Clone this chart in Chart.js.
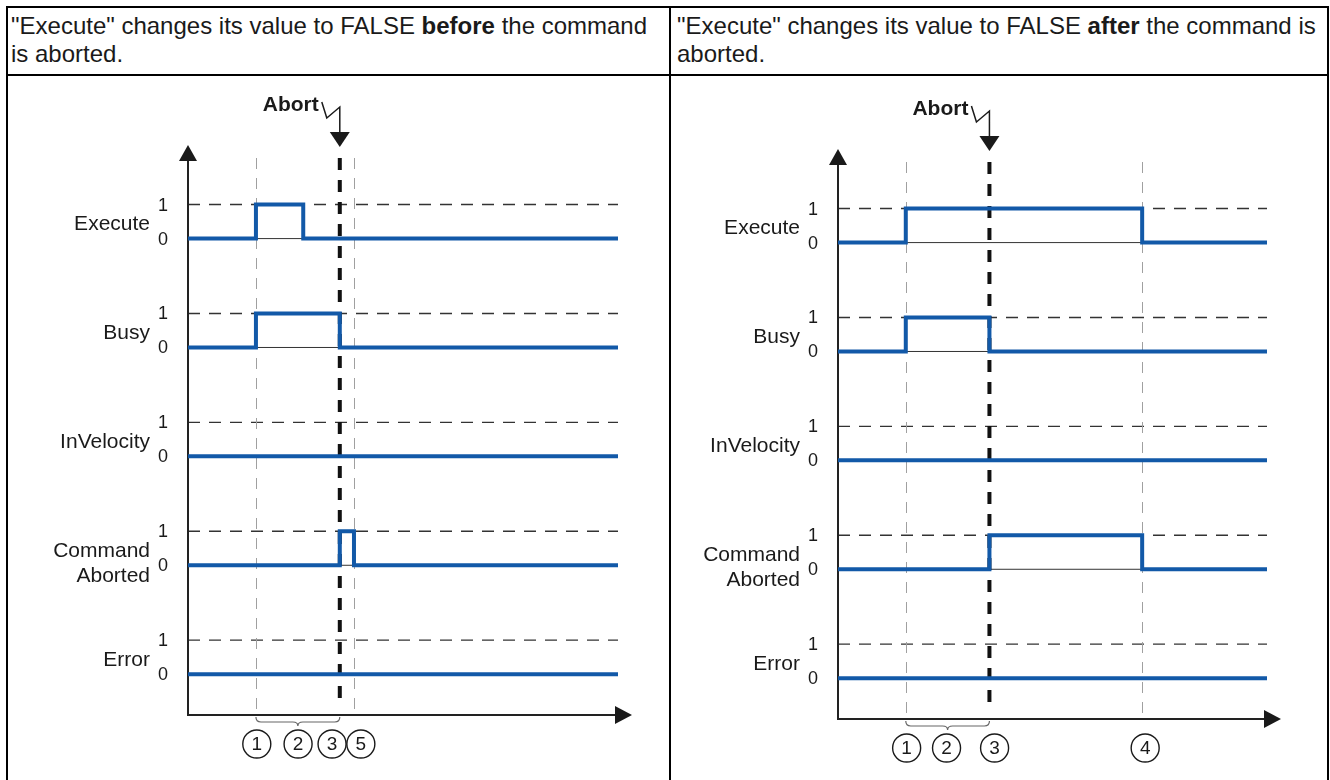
<!DOCTYPE html>
<html lang="en">
<head>
<meta charset="UTF-8">
<title>Abort - Execute FALSE before / after</title>
<script src="https://cdn.jsdelivr.net/npm/chart.js"></script>
<style>
  body { margin: 0; background: #fff; font-family: "Liberation Sans", Arial, sans-serif; color: #1a1a1a; }
  .cell { position: absolute; border: 2px solid #000; box-sizing: border-box; }
  .head { font-size: 24px; line-height: 28px; padding: 4px 3px; white-space: nowrap; }
  canvas { position: absolute; top: 0; }
</style>
</head>
<body>
  <div class="cell head" style="left:6px;top:6px;width:665px;height:70px;">"Execute" changes its value to FALSE <b>before</b> the command<br>is aborted.</div>
  <div class="cell head" style="left:669px;top:6px;width:660px;height:70px;padding-left:6px;">"Execute" changes its value to FALSE <b>after</b> the command is<br>aborted.</div>
  <div class="cell" style="left:6px;top:74px;width:665px;height:760px;"></div>
  <div class="cell" style="left:669px;top:74px;width:660px;height:760px;"></div>

  <canvas id="graficoAntes" width="665" height="780" style="left:0px;"></canvas>
  <canvas id="graficoDepois" width="665" height="780" style="left:665px;"></canvas>

<script>
  // signals, top to bottom
  var signalNames = ['Execute', 'Busy', 'InVelocity', 'Command\nAborted', 'Error'];
  var levelLabels = ['0', '1'];

  // switching times (time axis 0..100); every signal starts at 0 and toggles at each time
  var leftExecute = [15.8, 26.8];
  var leftBusy = [15.8, 35.3];
  var leftInVelocity = [];
  var leftCmdAborted = [35.3, 38.6];
  var leftError = [];
  var leftGuides = [15.8, 38.6];
  var leftAbort = 35.3;
  var leftMarks = ['1', '2', '3', '5'];
  var leftMarkPos = [16.0, 25.6, 33.5, 40.2];
  var leftBrace = [15.8, 35.3];

  var rightExecute = [15.8, 70.9];
  var rightBusy = [15.8, 35.3];
  var rightInVelocity = [];
  var rightCmdAborted = [35.3, 70.9];
  var rightError = [];
  var rightGuides = [15.8, 70.9];
  var rightAbort = 35.3;
  var rightMarks = ['1', '2', '3', '4'];
  var rightMarkPos = [16.0, 25.3, 36.5, 71.6];
  var rightBrace = [15.8, 35.3];

  var ROW_GAP = 3.2;
  var AZUL = '#1259a8';
  var FONTE = '"Liberation Sans", Arial, sans-serif';

  // turns a list of switching times into stepped points for one row
  function pontosDegrau(tempos, base) {
    var pts = [{ x: 0, y: base }];
    var nivel = 0;
    for (var i = 0; i < tempos.length; i++) {
      nivel = 1 - nivel;
      pts.push({ x: tempos[i], y: base + nivel });
    }
    pts.push({ x: 100, y: base + nivel });
    return pts;
  }

  function baseLinha(i) {
    return (signalNames.length - 1 - i) * ROW_GAP;
  }

  function linhaTracejada(ctx, x1, y1, x2, y2, cor, largura, dash) {
    ctx.save();
    ctx.strokeStyle = cor;
    ctx.lineWidth = largura;
    ctx.setLineDash(dash);
    ctx.beginPath();
    ctx.moveTo(x1, y1);
    ctx.lineTo(x2, y2);
    ctx.stroke();
    ctx.restore();
  }

  // background: reference lines, guides, abort line and axes
  var pluginFundo = {
    id: 'fundo',
    beforeDatasetsDraw: function (chart) {
      var ctx = chart.ctx;
      var a = chart.chartArea;
      var xs = chart.scales.x;
      var ys = chart.scales.y;
      var cfg = chart.options.plugins.diagrama;

      for (var i = 0; i < signalNames.length; i++) {
        var y0 = ys.getPixelForValue(baseLinha(i));
        var y1 = ys.getPixelForValue(baseLinha(i) + 1);
        linhaTracejada(ctx, a.left, y0, a.right, y0, '#333', 1, []);
        linhaTracejada(ctx, a.left, y1, a.right, y1, '#333', 1.4, [12, 9]);
      }

      for (var g = 0; g < cfg.guides.length; g++) {
        var gx = Math.round(xs.getPixelForValue(cfg.guides[g])) + 0.5;
        linhaTracejada(ctx, gx, a.top + 13, gx, a.bottom - 6, '#a0a0a0', 1, [11, 9]);
      }

      var ax = xs.getPixelForValue(cfg.abort);
      linhaTracejada(ctx, ax, a.top + 13, ax, a.bottom - 8, '#111', 4, [12, 10]);

      // axes with arrow heads
      ctx.save();
      ctx.strokeStyle = '#222';
      ctx.fillStyle = '#1a1a1a';
      ctx.lineWidth = 2;
      ctx.beginPath();
      ctx.moveTo(a.left, a.top + 12);
      ctx.lineTo(a.left, a.bottom);
      ctx.lineTo(a.right, a.bottom);
      ctx.stroke();
      ctx.beginPath();
      ctx.moveTo(a.left, a.top);
      ctx.lineTo(a.left - 9, a.top + 16);
      ctx.lineTo(a.left + 9, a.top + 16);
      ctx.closePath();
      ctx.fill();
      ctx.beginPath();
      ctx.moveTo(a.right + 14, a.bottom);
      ctx.lineTo(a.right - 3, a.bottom - 9);
      ctx.lineTo(a.right - 3, a.bottom + 9);
      ctx.closePath();
      ctx.fill();
      ctx.restore();
    },

    afterDatasetsDraw: function (chart) {
      var ctx = chart.ctx;
      var a = chart.chartArea;
      var xs = chart.scales.x;
      var ys = chart.scales.y;
      var cfg = chart.options.plugins.diagrama;

      ctx.save();
      ctx.fillStyle = '#1a1a1a';
      ctx.textBaseline = 'middle';

      // row names and 0 / 1 labels
      for (var i = 0; i < signalNames.length; i++) {
        var y0 = ys.getPixelForValue(baseLinha(i));
        var y1 = ys.getPixelForValue(baseLinha(i) + 1);
        ctx.font = '18px ' + FONTE;
        ctx.textAlign = 'center';
        ctx.fillText(levelLabels[0], a.left - 25, y0 + 1);
        ctx.fillText(levelLabels[1], a.left - 25, y1 + 1);

        ctx.font = '21px ' + FONTE;
        ctx.textAlign = 'right';
        var partes = signalNames[i].split('\n');
        var meio = (y0 + y1) / 2 + 3;
        for (var p = 0; p < partes.length; p++) {
          ctx.fillText(partes[p], a.left - 38, meio + p * 25);
        }
      }

      // Abort label with lightning arrow
      var ax = xs.getPixelForValue(cfg.abort);
      ctx.font = 'bold 21px ' + FONTE;
      ctx.textAlign = 'right';
      ctx.fillText('Abort', ax - 21, a.top - 40);
      ctx.strokeStyle = '#1a1a1a';
      ctx.lineWidth = 1.5;
      ctx.beginPath();
      ctx.moveTo(ax - 18, a.top - 43);
      ctx.lineTo(ax - 13, a.top - 27);
      ctx.lineTo(ax, a.top - 38);
      ctx.lineTo(ax, a.top - 13);
      ctx.stroke();
      ctx.beginPath();
      ctx.moveTo(ax - 10, a.top - 13);
      ctx.lineTo(ax + 10, a.top - 13);
      ctx.lineTo(ax, a.top + 2);
      ctx.closePath();
      ctx.fill();

      // brace under the time axis
      var bx1 = xs.getPixelForValue(cfg.brace[0]);
      var bx2 = xs.getPixelForValue(cfg.brace[1]);
      var bm = (bx1 + bx2) / 2;
      var by = a.bottom;
      ctx.strokeStyle = '#666';
      ctx.lineWidth = 1.2;
      ctx.beginPath();
      ctx.moveTo(bx1, by + 2);
      ctx.quadraticCurveTo(bx1, by + 7, bx1 + 5, by + 7);
      ctx.lineTo(bm - 5, by + 7);
      ctx.quadraticCurveTo(bm, by + 7, bm, by + 11);
      ctx.quadraticCurveTo(bm, by + 7, bm + 5, by + 7);
      ctx.lineTo(bx2 - 5, by + 7);
      ctx.quadraticCurveTo(bx2, by + 7, bx2, by + 2);
      ctx.stroke();

      // circled step numbers
      ctx.strokeStyle = '#1a1a1a';
      ctx.lineWidth = 1.4;
      ctx.font = '19px ' + FONTE;
      ctx.textAlign = 'center';
      for (var m = 0; m < cfg.marks.length; m++) {
        var mx = xs.getPixelForValue(cfg.markPos[m]);
        var my = a.bottom + 29;
        ctx.beginPath();
        ctx.arc(mx, my, 14, 0, Math.PI * 2);
        ctx.stroke();
        ctx.fillText(cfg.marks[m], mx, my + 1);
      }
      ctx.restore();
    }
  };

  function desenharDiagrama(idCanvas, linhas, extras, padding) {
    var datasets = [];
    for (var i = 0; i < linhas.length; i++) {
      datasets.push({
        label: signalNames[i],
        data: pontosDegrau(linhas[i], baseLinha(i)),
        stepped: true,
        borderColor: AZUL,
        borderWidth: 4,
        borderCapStyle: 'butt',
        borderJoinStyle: 'miter',
        pointRadius: 0,
        fill: false
      });
    }

    var ctx = document.getElementById(idCanvas).getContext('2d');
    new Chart(ctx, {
      type: 'line',
      data: { datasets: datasets },
      options: {
        responsive: false,
        animation: false,
        layout: { padding: padding },
        scales: {
          x: { type: 'linear', min: 0, max: 100, display: false },
          y: { type: 'linear', min: -1.2, max: 15.55, display: false }
        },
        plugins: {
          legend: { display: false },
          tooltip: { enabled: false },
          diagrama: extras
        }
      },
      plugins: [pluginFundo]
    });
  }

  desenharDiagrama('graficoAntes',
    [leftExecute, leftBusy, leftInVelocity, leftCmdAborted, leftError],
    { guides: leftGuides, abort: leftAbort, marks: leftMarks, markPos: leftMarkPos, brace: leftBrace },
    { left: 188, right: 47, top: 145, bottom: 65 });

  desenharDiagrama('graficoDepois',
    [rightExecute, rightBusy, rightInVelocity, rightCmdAborted, rightError],
    { guides: rightGuides, abort: rightAbort, marks: rightMarks, markPos: rightMarkPos, brace: rightBrace },
    { left: 173, right: 63, top: 149, bottom: 61 });
</script>
</body>
</html>
